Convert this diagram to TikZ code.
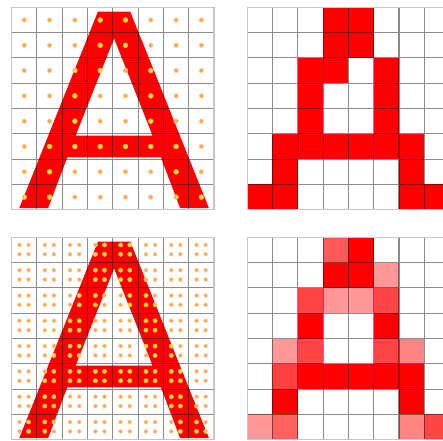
\documentclass[tikz,border=0pt]{standalone}
\usepackage{tikz}

\definecolor{dotout}{RGB}{247,176,60}
\definecolor{dotin}{RGB}{255,232,24}

\tikzset{
    cellgrid/.style={black, opacity=0.45, line width=1.1pt, step=1},
    frame/.style={gray!45, line width=1.3pt},
    glyph/.style={insert path={
        (3.41,7.83) -- (4.69,7.83) -- (7.80,0.06) -- (6.66,0.06) -- (5.90,2.07)
        -- (2.20,2.07) -- (1.44,0.06) -- (0.30,0.06) -- cycle
        (4.05,6.77) -- (2.53,2.93) -- (5.57,2.93) -- cycle}},
    sample/.style={fill=dotout, draw=red!20, line width=0.5pt},
    hit/.style={fill=dotin, draw=orange!70, line width=0.5pt}
}

\begin{document}
\begin{tikzpicture}[x=25.3pt, y=25.3pt]

    \clip (0,0) rectangle (17.51,17.43);

    % one sample per pixel (top left)
    \begin{scope}[shift={(0.46,9.14)}]
        \fill[red, glyph];
        \draw[cellgrid] (0,0) grid (8,8);
        \draw[frame] (0,0) rectangle (8,8);
        \foreach \i in {0,...,7}
            \foreach \j in {0,...,7}
                \path[sample] (\i+0.5,\j+0.5) circle (2.3pt);
        \begin{scope}
            \clip[glyph];
            \foreach \i in {0,...,7}
                \foreach \j in {0,...,7}
                    \path[hit] (\i+0.5,\j+0.5) circle (2.3pt);
        \end{scope}
    \end{scope}

    % binary result (top right)
    \begin{scope}[shift={(9.77,9.14)}]
        \foreach \c/\r in {3/0,4/0,3/1,4/1,2/2,3/2,5/2,2/3,5/3,2/4,5/4,
                           1/5,2/5,3/5,4/5,5/5,6/5,1/6,6/6,0/7,1/7,6/7,7/7}
            \fill[red] (\c,7-\r) rectangle ++(1,1);
        \draw[cellgrid] (0,0) grid (8,8);
        \draw[frame] (0,0) rectangle (8,8);
    \end{scope}

    % four samples per pixel (bottom left)
    \begin{scope}[shift={(0.46,0.05)}]
        \fill[red, glyph];
        \draw[cellgrid] (0,0) grid (8,8);
        \draw[frame] (0,0) rectangle (8,8);
        \foreach \i in {0,...,7}
            \foreach \j in {0,...,7}
                \foreach \u in {0.31,0.67}
                    \foreach \v in {0.33,0.70}
                        \path[sample] (\i+\u,\j+\v) circle (2pt);
        \begin{scope}
            \clip[glyph];
            \foreach \i in {0,...,7}
                \foreach \j in {0,...,7}
                    \foreach \u in {0.31,0.67}
                        \foreach \v in {0.33,0.70}
                            \path[hit] (\i+\u,\j+\v) circle (2pt);
        \end{scope}
    \end{scope}

    % antialiased result (bottom right)
    \begin{scope}[shift={(9.77,0.05)}]
        \foreach \c/\r/\k in {3/0/65,4/0/100,3/1/100,4/1/100,5/1/40,
                              2/2/73,3/2/40,4/2/40,5/2/73,2/3/100,5/3/100,
                              1/4/40,2/4/73,5/4/73,6/4/48,
                              1/5/75,2/5/100,3/5/100,4/5/100,5/5/100,6/5/100,
                              1/6/100,6/6/100,0/7/40,1/7/62,6/7/48,7/7/73}
            \fill[red!\k] (\c,7-\r) rectangle ++(1,1);
        \draw[cellgrid] (0,0) grid (8,8);
        \draw[frame] (0,0) rectangle (8,8);
    \end{scope}

\end{tikzpicture}
\end{document}
